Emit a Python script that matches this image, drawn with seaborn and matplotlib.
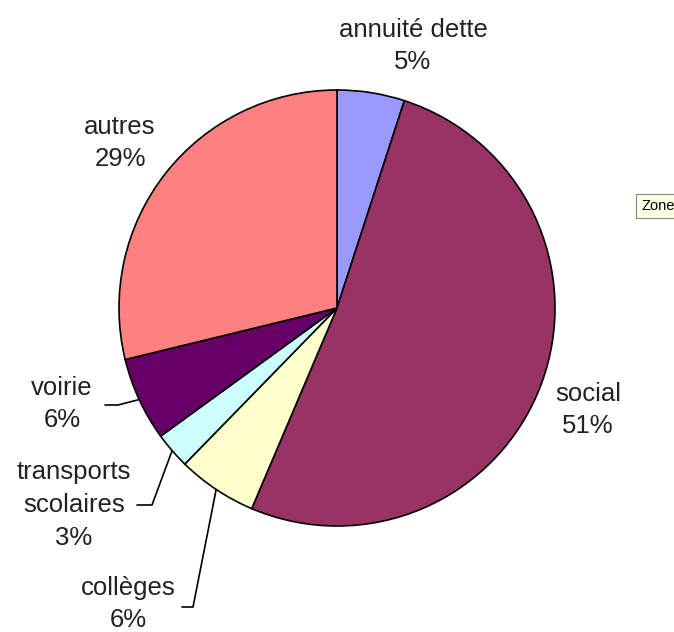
import numpy as np
import matplotlib
matplotlib.use("Agg")
import matplotlib.pyplot as plt
import seaborn as sns

categories = ["annuité dette", "social", "collèges", "transports\nscolaires", "voirie", "autres"]
values = [5.0, 51.4, 5.9, 2.7, 6.2, 28.8]
colors = ["#9999FF", "#993366", "#FFFFCC", "#CCFFFF", "#660066", "#FF8080"]

sns.set_theme(style="white")
plt.rcParams['font.family'] = ['Liberation Sans', 'DejaVu Sans']

W, H = 674, 632
fig = plt.figure(figsize=(W / 100, H / 100), dpi=100)
ax = fig.add_axes([0, 0, 1, 1])

cx, cy, r = 337, H - 308, 218
wedges, _ = ax.pie(values, colors=colors, startangle=90, counterclock=False,
                   center=(cx, cy), radius=r, frame=True,
                   wedgeprops=dict(edgecolor="black", linewidth=1.2))
ax.set_xlim(0, W)
ax.set_ylim(0, H)
ax.set_aspect("equal")
ax.axis("off")

# label positions (text centre, image pixels) and leader-line elbows
label_pos = [(413, 46), (588, 410), (128, 604), (74, 505), (62, 404), (120, 143)]
leader = [None, None, (182, 193, 607), (137, 152, 505), (105, 118, 405), None]

fs = 18.5
for i, (w, lab, v) in enumerate(zip(wedges, categories, values)):
    x, y = label_pos[i]
    ax.text(x, H - y, f"{lab}\n{round(v)}%", ha="center", va="center",
            fontsize=fs, color="#222222", linespacing=1.45)
    if leader[i] is not None:
        ang = np.deg2rad((w.theta1 + w.theta2) / 2)
        ex, ey = cx + r * np.cos(ang), cy + r * np.sin(ang)
        x0, x1, ly = leader[i]
        ax.plot([x0, x1, ex], [H - ly, H - ly, ey], color="black", lw=1.2)

fig.text(641 / W, 1 - 206 / H, "Zone", fontsize=10.5, ha="left", va="center",
         color="black", bbox=dict(boxstyle="square,pad=0.35", fc="#FFFFE1", ec="#888888", lw=0.8))

fig.savefig("out.png", dpi=100, facecolor="white")
